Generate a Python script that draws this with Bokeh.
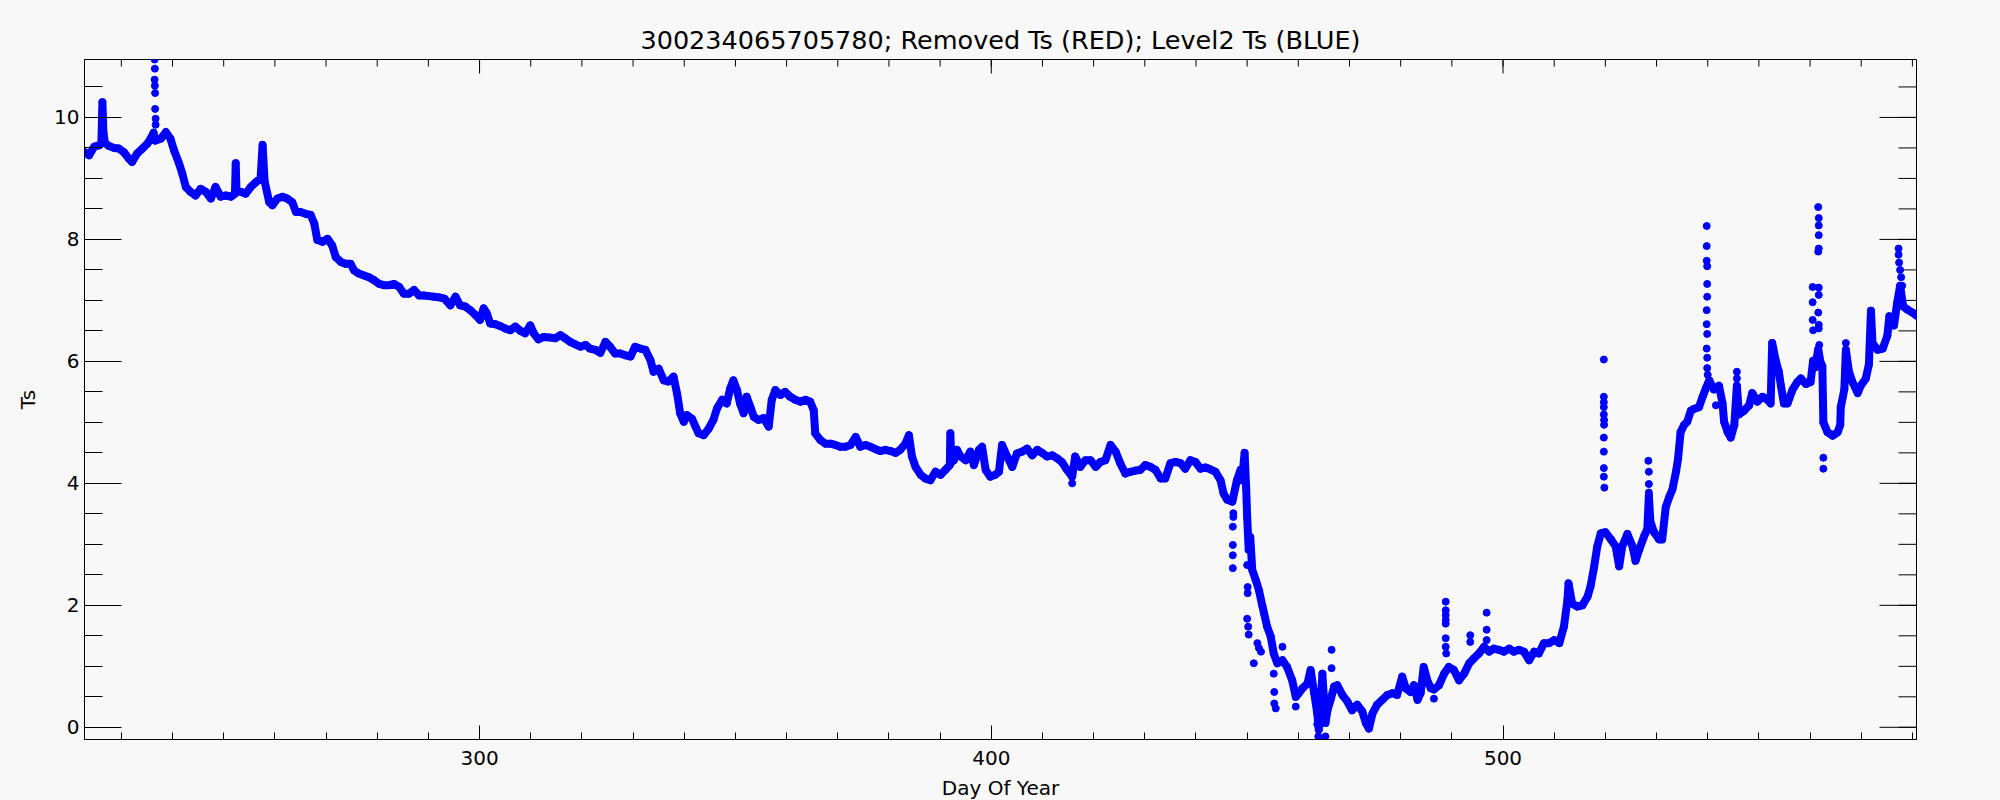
import math
from bokeh.plotting import figure
from bokeh.models import Range1d, FixedTicker
from bokeh.embed import file_html
from bokeh.resources import INLINE

# ---------------- texts / ticks ----------------
title_text = "300234065705780; Removed Ts (RED); Level2 Ts (BLUE)"
x_label = "Day Of Year"
y_label = "Ts"
x_major = [300, 400, 500]
x_minor = list(range(230, 590, 10))
y_major = [0, 2, 4, 6, 8, 10]
y_minor = [i * 0.5 for i in range(0, 22)]
x_limits = (222.8, 580.8)
y_limits = (-0.2, 10.95)

# ---------------- data ----------------
day_main = [
    222.8, 223.7, 224.7, 225.6, 226.1, 226.3, 226.5, 226.8, 227.6, 228.6, 229.5, 230.5, 231.5, 232.1,
    233.1, 234.1, 235.1, 235.7, 236.3, 236.6, 237.7, 238.7, 239.6, 240.3, 241.3, 241.9, 242.6, 243.5,
    244.5, 245.5, 246.5, 247.5, 248.4, 249.4, 250.4, 251.4, 252.2, 252.35, 252.5, 253.3, 254.3, 255.3,
    256.3, 257.2, 257.6, 258.0, 258.9, 259.5, 260.5, 261.5, 262.4, 263.4, 264.1, 265.0, 266.0, 267.0,
    267.7, 268.3, 269.3, 270.3, 271.2, 271.9, 272.9, 273.8, 274.8, 275.5, 276.4, 277.4, 278.4, 279.4,
    280.4, 281.3, 282.3, 283.3, 284.3, 285.2, 286.2, 287.2, 288.2, 289.1, 290.1, 291.1, 292.1, 293.1,
    294.3, 295.3, 296.2, 297.2, 298.2, 299.2, 300.1, 300.8, 301.4, 302.1, 303.1, 304.0, 305.0, 306.0,
    307.0, 308.0, 308.9, 309.9, 310.6, 311.5, 312.5, 313.8, 314.8, 315.8, 316.7, 317.7, 318.7, 319.7,
    320.7, 321.6, 322.6, 323.6, 324.6, 325.5, 326.5, 327.5, 328.5, 329.5, 330.4, 331.4, 332.4, 333.4,
    334.0, 335.0, 336.0, 336.9, 337.9, 338.6, 339.2, 339.9, 340.5, 341.5, 342.2, 342.8, 343.8, 344.8,
    345.7, 346.4, 347.4, 348.3, 349.0, 349.6, 350.3, 350.9, 351.6, 352.2, 352.9, 353.6, 354.5, 355.5,
    356.5, 357.1, 357.8, 358.8, 359.7, 360.7, 361.7, 362.7, 363.7, 364.6, 365.3, 365.6, 366.6,
    367.6, 368.6, 369.5, 370.5, 371.5, 372.5, 373.5, 374.4, 375.4, 376.4, 377.4, 378.3, 379.3, 380.3,
    381.3, 382.2, 383.2, 383.9, 384.5, 385.2, 386.2, 387.1, 388.1, 389.1, 390.1, 391.0, 391.9, 392.0,
    392.2, 392.7, 393.3, 394.0, 395.0, 395.9, 396.6, 397.6, 398.2, 398.9, 399.8, 400.8, 401.5, 402.1,
    403.1, 404.1, 405.0, 406.0, 407.0, 408.0, 409.0, 409.9, 410.9, 411.9, 412.9, 413.8, 414.8, 415.8,
    416.4, 417.4, 418.4, 419.4, 420.4, 421.3, 422.3, 423.3, 424.3, 425.2, 426.2, 427.2, 428.2, 429.1,
    430.1, 431.1, 432.1, 433.1, 434.0, 435.0, 436.0, 437.0, 437.9, 438.9, 439.9, 440.9, 441.9, 442.8,
    443.8, 444.8, 445.4, 446.1, 447.1, 448.0, 448.7, 449.0, 449.5, 449.8, 450.0, 450.3, 450.6, 451.0,
    451.7, 452.3, 453.0, 453.3, 453.9, 454.6, 455.2, 455.9, 456.9, 457.8, 458.8, 459.5, 460.1, 460.8,
    461.8, 462.4, 463.1, 463.7, 464.0, 464.4, 464.7, 465.3, 465.7, 466.3, 467.0, 467.6, 468.6, 469.6,
    470.5, 471.5, 472.5, 473.2, 473.8, 474.5, 475.4, 476.4, 477.4, 478.4, 479.3, 480.3, 481.0, 481.9,
    482.6, 483.3, 483.9, 484.5, 485.2, 485.9, 486.5, 487.5, 488.5, 489.4, 490.4, 491.4, 492.4, 493.4,
    494.3, 495.3, 496.3, 497.3, 498.2, 499.2, 500.2, 501.2, 502.1, 503.1, 504.1, 505.1, 506.1, 507.0,
    508.0, 509.0, 510.0, 511.0, 511.9, 512.6, 512.8, 513.5, 514.5, 515.5, 516.5, 517.1, 517.8, 518.4,
    519.1, 520.0, 521.1, 522.0, 522.7, 523.3, 524.3, 525.3, 525.9, 526.6, 527.6, 528.2, 528.5, 528.8,
    529.5, 530.5, 531.1, 531.8, 532.5, 533.1, 533.8, 534.2, 534.7, 535.4, 536.0, 536.7, 537.3, 538.3,
    539.0, 539.6, 540.3, 541.2, 542.2, 542.9, 543.2, 543.9, 544.5, 545.2, 545.7, 546.1, 547.1, 548.1,
    548.7, 549.7, 550.7, 551.7, 552.3, 552.6, 553.3, 553.9, 554.3, 554.9, 555.6, 556.6, 557.5, 558.2,
    559.2, 560.1, 560.6, 561.0, 561.6, 562.0, 562.4, 562.6, 563.4, 564.4, 565.4, 565.9, 566.0, 566.7,
    567.0, 567.6, 568.3, 569.3, 569.9, 570.9, 571.5, 571.9, 572.2, 573.2, 574.2, 575.1, 575.5, 576.4,
    577.0, 577.6, 578.2, 579.0, 580.0, 580.8,
]
ts_main = [
    9.43, 9.38, 9.52, 9.54, 9.58, 10.25, 9.75, 9.58, 9.53, 9.50, 9.49, 9.43, 9.32, 9.27,
    9.41, 9.49, 9.57, 9.65, 9.75, 9.62, 9.65, 9.76, 9.65, 9.46, 9.24, 9.08, 8.86, 8.78,
    8.72, 8.83, 8.78, 8.67, 8.86, 8.70, 8.72, 8.70, 8.75, 9.25, 8.80, 8.78, 8.75, 8.86,
    8.94, 9.00, 9.55, 8.95, 8.61, 8.56, 8.67, 8.70, 8.67, 8.61, 8.45, 8.45, 8.42, 8.40,
    8.26, 7.99, 7.96, 8.01, 7.90, 7.71, 7.63, 7.60, 7.60, 7.49, 7.44, 7.41, 7.38, 7.33,
    7.27, 7.25, 7.25, 7.27, 7.22, 7.11, 7.11, 7.17, 7.08, 7.08, 7.07, 7.06, 7.05, 7.03,
    6.92, 7.06, 6.92, 6.90, 6.84, 6.76, 6.68, 6.87, 6.79, 6.62, 6.61, 6.58, 6.54, 6.51,
    6.57, 6.50, 6.46, 6.59, 6.46, 6.36, 6.40, 6.39, 6.38, 6.43, 6.38, 6.32, 6.28, 6.24,
    6.27, 6.21, 6.19, 6.14, 6.32, 6.24, 6.13, 6.13, 6.10, 6.08, 6.24, 6.21, 6.19, 6.02,
    5.83, 5.88, 5.69, 5.67, 5.75, 5.47, 5.15, 5.01, 5.12, 5.06, 4.93, 4.82, 4.79, 4.90,
    5.04, 5.23, 5.37, 5.31, 5.56, 5.69, 5.53, 5.31, 5.15, 5.42, 5.26, 5.09, 5.04, 5.07,
    4.93, 5.37, 5.53, 5.45, 5.50, 5.42, 5.37, 5.34, 5.37, 5.34, 5.20, 4.82, 4.71,
    4.65, 4.65, 4.63, 4.60, 4.60, 4.63, 4.76, 4.60, 4.63, 4.60, 4.56, 4.53, 4.55, 4.53,
    4.50, 4.55, 4.65, 4.79, 4.44, 4.27, 4.14, 4.08, 4.05, 4.19, 4.14, 4.22, 4.30, 4.82,
    4.35, 4.38, 4.55, 4.44, 4.38, 4.52, 4.30, 4.55, 4.60, 4.22, 4.11, 4.14, 4.19, 4.63,
    4.44, 4.27, 4.49, 4.52, 4.57, 4.46, 4.55, 4.50, 4.44, 4.46, 4.41, 4.35, 4.22, 4.11,
    4.44, 4.27, 4.38, 4.38, 4.27, 4.35, 4.38, 4.63, 4.52, 4.33, 4.16, 4.19, 4.21, 4.22,
    4.30, 4.27, 4.22, 4.08, 4.08, 4.33, 4.35, 4.33, 4.24, 4.38, 4.35, 4.24, 4.26, 4.23,
    4.19, 4.05, 3.83, 3.73, 3.70, 4.05, 4.22, 4.05, 4.50, 3.94, 3.45, 2.91, 3.12, 2.58,
    2.41, 2.25, 1.98, 1.87, 1.65, 1.49, 1.21, 1.05, 1.10, 0.99, 0.77, 0.50, 0.56, 0.64,
    0.72, 0.94, 0.56, 0.23, -0.04, 0.39, 0.88, 0.07, 0.28, 0.45, 0.67, 0.69, 0.53, 0.42,
    0.28, 0.37, 0.26, 0.07, -0.02, 0.23, 0.37, 0.45, 0.53, 0.56, 0.53, 0.83, 0.64, 0.58,
    0.69, 0.45, 0.56, 0.99, 0.77, 0.64, 0.62, 0.69, 0.88, 0.99, 0.94, 0.77, 0.88, 1.05,
    1.13, 1.21, 1.32, 1.24, 1.29, 1.27, 1.24, 1.29, 1.24, 1.27, 1.24, 1.10, 1.24, 1.21,
    1.38, 1.38, 1.43, 1.38, 1.65, 2.09, 2.36, 2.03, 1.98, 2.00, 2.14, 2.31, 2.63, 2.96,
    3.18, 3.20, 3.08, 2.97, 2.64, 2.97, 3.17, 2.97, 2.73, 2.91, 3.14, 3.25, 3.80, 3.37,
    3.20, 3.08, 3.08, 3.61, 3.78, 3.90, 4.19, 4.40, 4.84, 4.96, 5.01, 5.19, 5.22, 5.25,
    5.42, 5.55, 5.69, 5.54, 5.60, 5.31, 5.01, 4.84, 4.75, 4.96, 5.60, 5.13, 5.19, 5.28,
    5.48, 5.34, 5.42, 5.37, 5.31, 6.30, 6.01, 5.83, 5.60, 5.31, 5.31, 5.54, 5.66, 5.72,
    5.63, 5.66, 6.01, 5.90, 6.20, 6.00, 5.92, 5.00, 4.84, 4.78, 4.84, 4.96, 5.25, 5.54,
    6.19, 5.83, 5.66, 5.48, 5.60, 5.72, 5.95, 6.83, 6.30, 6.19, 6.21, 6.42, 6.74, 6.59,
    6.95, 7.24, 6.90, 6.85, 6.80, 6.75,
]

# isolated points (spikes and scattered readings)
day_spike = [
    236.5, 236.55, 236.5, 236.55, 236.6, 236.6, 236.7, 236.7,
    415.8,
    447.2, 447.2, 447.2, 447.2, 447.3, 447.3,
    450.0, 450.1, 450.1, 450.0, 450.2, 450.3, 451.3, 452.0, 452.3, 452.7,
    455.2, 455.3, 455.3, 455.6, 456.9, 459.5, 463.7, 463.9, 465.3, 466.5, 466.5, 486.5,
    488.8, 488.8, 488.8, 488.8, 488.8, 488.8, 488.8, 488.9,
    493.6, 493.6, 496.8, 496.8, 496.8,
    519.7, 519.7, 519.7, 519.7, 519.7, 519.75, 519.75, 519.7, 519.7, 519.7, 519.7, 519.8,
    528.4, 528.5, 528.5, 528.5,
    539.8, 539.8, 539.8, 539.9, 539.9, 539.9, 539.8, 539.8, 539.9, 539.8, 539.9, 539.9, 540.0,
    541.6, 545.7, 545.7,
    560.5, 560.5, 560.5, 560.6,
    561.6, 561.7, 561.7, 561.7, 561.7, 561.6, 561.7, 561.7, 561.6, 561.7, 561.7, 561.8, 561.8,
    562.6, 562.6, 567.0,
    577.3, 577.3, 577.4, 577.6, 577.8, 578.0,
]
ts_spike = [
    10.95, 10.80, 10.62, 10.52, 10.40, 10.14, 9.98, 9.88,
    4.00,
    3.29, 2.99, 2.82, 2.61, 3.51, 3.45,
    2.66, 2.30, 2.20, 1.78, 1.65, 1.52, 1.05, 1.38, 1.30, 1.24,
    0.88, 0.58, 0.39, 0.31, 1.32, 0.34, 0.05, -0.15, -0.15, 1.27, 0.97, 0.47,
    2.06, 1.92, 1.84, 1.76, 1.70, 1.46, 1.32, 1.21,
    1.51, 1.40, 1.88, 1.60, 1.43,
    6.03, 5.42, 5.33, 5.25, 5.13, 5.04, 4.96, 4.75, 4.52, 4.25, 4.11, 3.93,
    4.37, 4.19, 3.99, 3.85,
    8.22, 7.89, 7.65, 7.56, 7.27, 7.06, 6.84, 6.61, 6.45, 6.21, 6.06, 5.89, 5.78,
    5.28, 5.83, 5.72,
    7.22, 6.97, 6.68, 6.51,
    8.53, 8.35, 8.23, 8.07, 7.85, 7.80, 7.21, 7.09, 6.80, 6.60, 6.54, 6.27, 6.07,
    4.42, 4.24, 6.30,
    7.85, 7.75, 7.62, 7.50, 7.38, 7.24,
]

# ---------------- style ----------------
FONT = "DejaVu Sans"
BG = "#f8f8f8"
BLUE = "#0000ff"

p = figure(
    width=2000, height=805,
    x_range=Range1d(*x_limits), y_range=Range1d(*y_limits),
    output_backend="svg", toolbar_location=None,
    min_border_left=84, min_border_right=84, min_border_top=59, min_border_bottom=66,
    background_fill_color=BG, border_fill_color=BG,
    outline_line_color="black", outline_line_width=1,
    title=title_text,
)
p.grid.visible = False

p.title.align = "center"
p.title.text_font = FONT
p.title.text_font_size = "25.5px"
p.title.text_font_style = "normal"
p.title.text_color = "black"


def style_axis(ax, major, minor, tin, tmin, standoff):
    ax.ticker = FixedTicker(ticks=major, minor_ticks=minor)
    ax.axis_line_color = "black"
    ax.axis_line_width = 1
    ax.major_tick_line_color = "black"
    ax.minor_tick_line_color = "black"
    ax.major_tick_in = tin
    ax.major_tick_out = 0
    ax.minor_tick_in = tmin
    ax.minor_tick_out = 0
    ax.major_label_text_font = FONT
    ax.major_label_text_color = "black"
    ax.major_label_text_font_size = "20px"
    ax.major_label_standoff = standoff
    ax.axis_label_text_font = FONT
    ax.axis_label_text_font_size = "20px"
    ax.axis_label_text_font_style = "normal"
    ax.axis_label_text_color = "black"


xb = p.xaxis[0]
style_axis(xb, x_major, x_minor, 14, 7, 11)
xb.axis_label = x_label
xb.axis_label_standoff = 8

yl = p.yaxis[0]
style_axis(yl, y_major, y_minor, 37, 18, 5)
yl.axis_label = y_label
yl.axis_label_standoff = 11

# mirrored ticks on the top and right edges of the box (no labels)
tick_kw = dict(line_color="black", line_width=1, length_units="screen")
p.ray(x=x_minor, y=[y_limits[1]] * len(x_minor), length=7, angle=-math.pi / 2, **tick_kw)
p.ray(x=x_major, y=[y_limits[1]] * len(x_major), length=14, angle=-math.pi / 2, **tick_kw)
p.ray(x=[x_limits[1]] * len(y_minor), y=y_minor, length=18, angle=math.pi, **tick_kw)
p.ray(x=[x_limits[1]] * len(y_major), y=y_major, length=37, angle=math.pi, **tick_kw)

# ---------------- data glyphs ----------------
p.line(day_main, ts_main, line_color=BLUE, line_width=8, line_join="round", line_cap="round")
p.scatter(day_main, ts_main, size=7, marker="circle", fill_color=BLUE, line_color=BLUE)
p.scatter(day_spike, ts_spike, size=7, marker="circle", fill_color=BLUE, line_color=BLUE)

html = file_html(p, INLINE, title="Ts")
html = html.replace(
    "</head>",
    "<style>html,body{background:#f8f8f8;overflow:hidden;}</style></head>",
    1,
)
open("out.html", "w").write(html)
